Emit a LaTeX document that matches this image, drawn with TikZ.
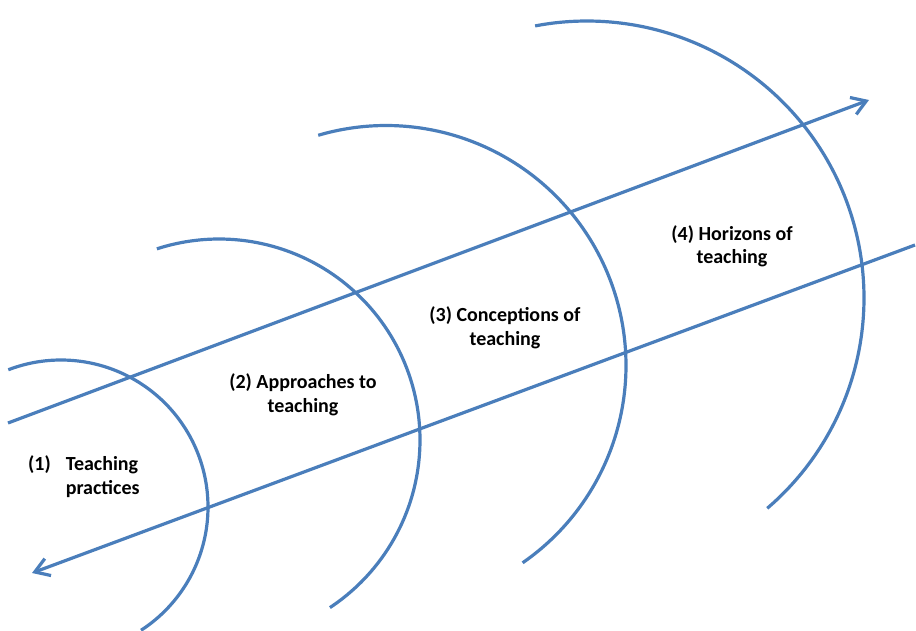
\documentclass[tikz,border=0pt]{standalone}
\usepackage{fontspec}
\setmainfont{Carlito}
\usetikzlibrary{arrows.meta}
\definecolor{arcblue}{RGB}{74,126,187}
\begin{document}
\begin{tikzpicture}[x=1pt,y=-1pt,
  arcline/.style={draw=arcblue,line width=3.2pt},
  axisline/.style={draw=arcblue,line width=3.2pt,-{Straight Barb[length=14pt,width=18pt]}},
  lab/.style={font=\bfseries\fontsize{20}{24}\selectfont,inner sep=0pt,align=center,anchor=base}]
\useasboundingbox (0,0) rectangle (916,631);
% arcs (circle centre, radius, angles measured with y pointing up)
\draw[arcline] plot[domain=111:-57,samples=80,smooth] ({61+147*cos(\x)},{507-147*sin(\x)});
\draw[arcline] plot[domain=108:-56.5,samples=80,smooth] ({219+201*cos(\x)},{440-201*sin(\x)});
\draw[arcline] plot[domain=106.4:-55.3,samples=80,smooth] ({386+240*cos(\x)},{365.5-240*sin(\x)});
\draw[arcline] plot[domain=100.8:-49.4,samples=80,smooth] ({587+277*cos(\x)},{298-277*sin(\x)});
% axes
\coordinate (u1) at (8,423);
\coordinate (u2) at (869,100);
\coordinate (l1) at (915,245);
\coordinate (l2) at (32,573);
\draw[axisline] (u1) -- (u2);
\draw[axisline] (l1) -- (l2);
% labels
\node[lab,anchor=base west] (t1) at (28,494) {\begin{tabular}[b]{@{}l@{\hspace{15pt}}l@{}}(1)&Teaching\\&practices\end{tabular}};
\node[lab] (t2) at (303,412) {(2) Approaches to\\teaching};
\node[lab] (t3) at (505,345) {(3) Conceptions of\\teaching};
\node[lab] (t4) at (732,264) {(4) Horizons of\\teaching};
\end{tikzpicture}
\end{document}
